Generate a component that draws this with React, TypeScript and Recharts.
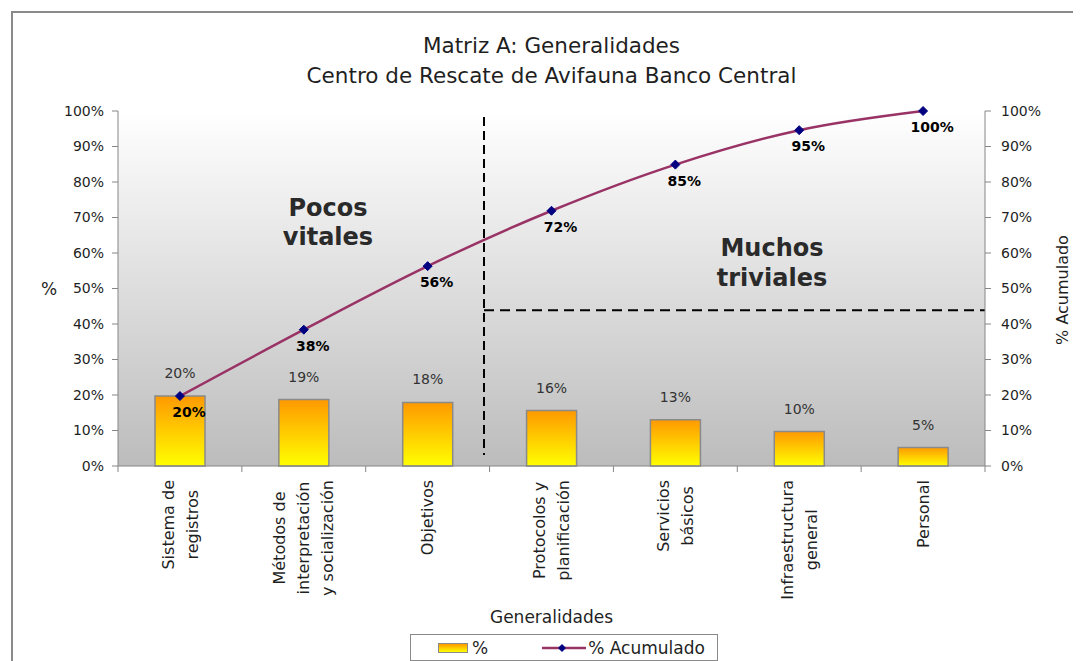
import React from "react";
import {
  ComposedChart,
  Bar,
  Line,
  XAxis,
  YAxis,
  CartesianGrid,
  LabelList,
  ReferenceLine,
} from "recharts";

const categories = [
  "Sistema de\nregistros",
  "Métodos de\ninterpretación\ny socialización",
  "Objetivos",
  "Protocolos y\nplanificación",
  "Servicios\nbásicos",
  "Infraestructura\ngeneral",
  "Personal",
];
const percentValues = [19.7, 18.7, 17.9, 15.6, 13.0, 9.7, 5.2];
const cumulativeValues = [19.7, 38.4, 56.3, 71.9, 84.9, 94.6, 100];
const yTicks = [0, 10, 20, 30, 40, 50, 60, 70, 80, 90, 100];

const FONT = "'DejaVu Sans', sans-serif";
const AXIS = "#868686";
const TEXT = "#1f1f1f";

const CHART_W = 1073;
const CHART_H = 653;
const LEFT_W = 110;
const RIGHT_W = 96;
const PLOT_W = CHART_W - LEFT_W - RIGHT_W;

// slot = centre of each category on a 0..7 numeric scale, used only for the dashed dividers
const data = categories.map((name, i) => ({
  name,
  slot: i + 0.5,
  pct: percentValues[i],
  acc: cumulativeValues[i],
}));

let measureCtx: CanvasRenderingContext2D | null = null;
const measure = (s: string, font: string) => {
  if (!measureCtx) measureCtx = document.createElement("canvas").getContext("2d");
  if (!measureCtx) return s.length * 8;
  measureCtx.font = font;
  return measureCtx.measureText(s).width;
};

const CategoryTick = (props: any) => {
  const { x, y, payload, index } = props;
  const lines: string[] = String(payload.value).split("\n");
  const maxW = Math.max(...lines.map((l) => measure(l, "16px 'DejaVu Sans'")));
  const lh = 24;
  const half = PLOT_W / categories.length / 2;
  return (
    <g>
      <line x1={x - half} y1={y - 14} x2={x - half} y2={y - 8} stroke={AXIS} />
      {index === categories.length - 1 && (
        <line x1={x + half} y1={y - 14} x2={x + half} y2={y - 8} stroke={AXIS} />
      )}
      <g transform={`translate(${x},${y}) rotate(-90)`}>
        {lines.map((l, i) => (
          <text
            key={i}
            x={-maxW / 2}
            y={(i - (lines.length - 1) / 2) * lh}
            dy="0.35em"
            textAnchor="middle"
            fontSize={16}
            fontFamily={FONT}
            fill={TEXT}
          >
            {l}
          </text>
        ))}
      </g>
    </g>
  );
};

const Diamond = (props: any) => {
  const { cx, cy } = props;
  const r = 4.5;
  return (
    <path
      d={`M${cx},${cy - r}L${cx + r},${cy}L${cx},${cy + r}L${cx - r},${cy}Z`}
      fill="#000080"
      stroke="#000080"
    />
  );
};

const AccLabel = (props: any) => {
  const { x, y, value } = props;
  return (
    <text
      x={x + 9}
      y={y + 21}
      textAnchor="middle"
      fontSize={14}
      fontWeight="bold"
      fontFamily={FONT}
      fill="#000"
    >
      {`${Math.round(value)}%`}
    </text>
  );
};

const BarLabel = (props: any) => {
  const { x, y, width, value } = props;
  return (
    <text
      x={x + width / 2}
      y={y - 18}
      textAnchor="middle"
      fontSize={14}
      fontFamily={FONT}
      fill="#333"
    >
      {`${Math.round(value)}%`}
    </text>
  );
};

const pctFmt = (v: number) => `${v}%`;

export default function App() {
  return (
    <div
      style={{
        position: "relative",
        width: CHART_W,
        height: CHART_H,
        fontFamily: FONT,
        color: TEXT,
      }}
    >
      <div
        style={{
          position: "absolute",
          left: 3,
          top: 3,
          width: CHART_W - 3,
          height: CHART_H - 3,
          borderTop: "2px solid #8a8a8a",
          borderLeft: "2px solid #8a8a8a",
          boxSizing: "border-box",
        }}
      />
      <div
        style={{
          position: "absolute",
          left: 0,
          width: CHART_W,
          top: 23,
          textAlign: "center",
          fontSize: 21.5,
          lineHeight: "30px",
          paddingLeft: 14,
          boxSizing: "border-box",
        }}
      >
        <div>Matriz A: Generalidades</div>
        <div>Centro de Rescate de Avifauna Banco Central</div>
      </div>
      <ComposedChart
        width={CHART_W}
        height={CHART_H}
        data={data}
        margin={{ top: 103, right: 0, bottom: 0, left: 0 }}
        style={{ position: "absolute", left: 0, top: 0 }}
      >
        <defs>
          <linearGradient id="plotBg" x1="0" y1="0" x2="0" y2="1">
            <stop offset="0%" stopColor="#ffffff" />
            <stop offset="100%" stopColor="#bcbcbc" />
          </linearGradient>
          <linearGradient id="barFill" x1="0" y1="0" x2="0" y2="1">
            <stop offset="0%" stopColor="#ff9900" />
            <stop offset="100%" stopColor="#ffff00" />
          </linearGradient>
        </defs>
        <CartesianGrid fill="url(#plotBg)" horizontal={false} vertical={false} />
        <XAxis
          dataKey="name"
          height={195}
          interval={0}
          tickLine={false}
          tickSize={0}
          tickMargin={14}
          axisLine={{ stroke: AXIS }}
          tick={<CategoryTick />}
        />
        <XAxis
          xAxisId="num"
          dataKey="slot"
          type="number"
          orientation="top"
          domain={[0, 7]}
          allowDataOverflow
          height={0}
          tick={false}
          tickLine={false}
          axisLine={{ stroke: AXIS }}
        />
        <YAxis
          yAxisId="left"
          domain={[0, 100]}
          ticks={yTicks}
          width={LEFT_W}
          tickFormatter={pctFmt}
          tickSize={6}
          tickMargin={8}
          axisLine={{ stroke: AXIS }}
          tickLine={{ stroke: AXIS }}
          tick={{ fontSize: 14, fill: TEXT, fontFamily: FONT }}
          interval={0}
        />
        <YAxis
          yAxisId="right"
          orientation="right"
          domain={[0, 100]}
          ticks={yTicks}
          width={RIGHT_W}
          tickFormatter={pctFmt}
          tickSize={6}
          tickMargin={10}
          axisLine={{ stroke: AXIS }}
          tickLine={{ stroke: AXIS }}
          tick={{ fontSize: 14, fill: TEXT, fontFamily: FONT }}
          interval={0}
        />
        <Bar
          yAxisId="left"
          dataKey="pct"
          barSize={50}
          fill="url(#barFill)"
          stroke="#8a8a8a"
          strokeWidth={1.5}
          isAnimationActive={false}
        >
          <LabelList dataKey="pct" content={<BarLabel />} />
        </Bar>
        <Line
          yAxisId="right"
          dataKey="acc"
          type="monotone"
          stroke="#993366"
          strokeWidth={2.5}
          dot={<Diamond />}
          activeDot={false}
          isAnimationActive={false}
        >
          <LabelList dataKey="acc" content={<AccLabel />} />
        </Line>
        <ReferenceLine
          xAxisId="num"
          yAxisId="left"
          ifOverflow="visible"
          segment={[
            { x: 2.955, y: 98.3 },
            { x: 2.955, y: 3.1 },
          ]}
          stroke="#000"
          strokeWidth={2}
          strokeDasharray="9 5"
        />
        <ReferenceLine
          xAxisId="num"
          yAxisId="left"
          ifOverflow="visible"
          segment={[
            { x: 2.955, y: 43.9 },
            { x: 7, y: 43.9 },
          ]}
          stroke="#000"
          strokeWidth={2}
          strokeDasharray="10 6"
        />
      </ComposedChart>
      <div
        style={{
          position: "absolute",
          left: 270,
          top: 186,
          width: 100,
          textAlign: "center",
          fontSize: 24,
          fontWeight: "bold",
          lineHeight: "29px",
          color: "#2a2a2a",
        }}
      >
        Pocos
        <br />
        vitales
      </div>
      <div
        style={{
          position: "absolute",
          left: 694,
          top: 225,
          width: 140,
          textAlign: "center",
          fontSize: 24,
          fontWeight: "bold",
          lineHeight: "30px",
          color: "#2a2a2a",
        }}
      >
        Muchos
        <br />
        triviales
      </div>
      <div style={{ position: "absolute", left: 33, top: 271, fontSize: 17 }}>%</div>
      <div
        style={{
          position: "absolute",
          left: 1055 - 60,
          width: 120,
          top: 282 - 10,
          height: 20,
          lineHeight: "20px",
          textAlign: "center",
          fontSize: 16,
          whiteSpace: "nowrap",
          transform: "rotate(-90deg)",
        }}
      >
        % Acumulado
      </div>
      <div
        style={{
          position: "absolute",
          left: 0,
          width: CHART_W,
          top: 599,
          paddingLeft: 14,
          boxSizing: "border-box",
          textAlign: "center",
          fontSize: 17,
        }}
      >
        Generalidades
      </div>
      <div
        style={{
          position: "absolute",
          left: 402,
          top: 626,
          width: 306,
          height: 25,
          border: "1px solid #8a8a8a",
          background: "#fff",
          fontSize: 17,
          display: "flex",
          alignItems: "center",
        }}
      >
        <span
          style={{
            display: "inline-block",
            marginLeft: 27,
            width: 28,
            height: 8,
            border: "1px solid #8a8a8a",
            background: "linear-gradient(#ff9900, #ffff00)",
          }}
        />
        <span style={{ marginLeft: 4 }}>%</span>
        <svg width={44} height={12} style={{ marginLeft: 54 }}>
          <line x1={0} y1={6} x2={44} y2={6} stroke="#993366" strokeWidth={2.5} />
          <path d="M20,2L24,6L20,10L16,6Z" fill="#000080" />
        </svg>
        <span style={{ marginLeft: 2 }}>% Acumulado</span>
      </div>
    </div>
  );
}
